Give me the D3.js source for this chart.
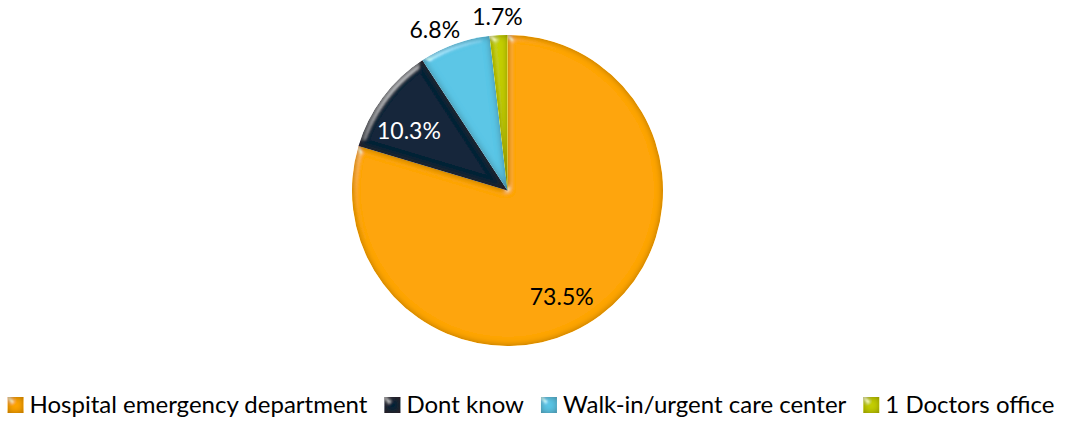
<!DOCTYPE html>
<html>
<head>
<meta charset="utf-8">
<script src="https://cdn.jsdelivr.net/npm/d3@7"></script>
<style>
  body { margin: 0; background: #fff; }
  text { font-family: Lato, "Open Sans", sans-serif; }
</style>
</head>
<body>
<svg id="chart" width="1086" height="421"></svg>
<script>
// chart data
const categories = ["Hospital emergency department", "Dont know", "Walk-in/urgent care center", "1 Doctors office"];
const values = [73.5, 10.3, 6.8, 1.7];
const labels = ["73.5%", "10.3%", "6.8%", "1.7%"];
const colors = ["#fea502", "#0f2538", "#5ac6e6", "#c4cf00"];

let svg = d3.select("#chart");

let cx = 507.5, cy = 190.5, r = 155.5;

// bevel look: soft dark rim + light highlight along the edges
let defs = svg.append("defs");
let f = defs.append("filter").attr("id", "bevel")
  .attr("x", "-10%").attr("y", "-10%").attr("width", "120%").attr("height", "120%");
f.append("feGaussianBlur").attr("in", "SourceAlpha").attr("stdDeviation", 3.5).attr("result", "blur");
// dark rim
f.append("feComposite").attr("in", "SourceAlpha").attr("in2", "blur").attr("operator", "arithmetic")
  .attr("k2", 1).attr("k3", -1).attr("result", "rim");
f.append("feFlood").attr("flood-color", "#3a1d00").attr("flood-opacity", 0.7);
f.append("feComposite").attr("in2", "rim").attr("operator", "in").attr("result", "shade");
// highlight only on edges facing the light
let spec = f.append("feSpecularLighting").attr("in", "blur").attr("surfaceScale", 4)
  .attr("specularConstant", 1).attr("specularExponent", 35)
  .attr("lighting-color", "#ffffff").attr("result", "spec");
spec.append("feDistantLight").attr("azimuth", 225).attr("elevation", 25);
f.append("feComposite").attr("in", "spec").attr("in2", "SourceAlpha").attr("operator", "in").attr("result", "specIn");
f.append("feComposite").attr("in", "SourceGraphic").attr("in2", "specIn").attr("operator", "arithmetic")
  .attr("k2", 1).attr("k3", 0.45).attr("result", "lit");
let m = f.append("feMerge");
m.append("feMergeNode").attr("in", "lit");
m.append("feMergeNode").attr("in", "shade");

let pie = d3.pie().sort(null).value(d => d);
let arcs = pie(values);
let arc = d3.arc().innerRadius(0).outerRadius(r);

let g = svg.append("g").attr("transform", `translate(${cx},${cy})`);

g.selectAll("path.slice")
  .data(arcs)
  .enter()
  .append("path")
  .attr("class", "slice")
  .attr("fill", (d, i) => colors[i])
  .attr("filter", "url(#bevel)")
  .attr("d", arc);

// data labels: radius factor and angle nudge per slice
let labelRadius = [0.77, 0.74, 1.136, 1.118];
let labelNudge = [0.17, -0.1, -0.077, 0];
let labelColors = ["#000", "#fff", "#000", "#000"];

g.selectAll("text.lbl")
  .data(arcs)
  .enter()
  .append("text")
  .attr("class", "lbl")
  .attr("transform", (d, i) => {
    let a = (d.startAngle + d.endAngle) / 2 + labelNudge[i];
    let rr = r * labelRadius[i];
    return `translate(${rr * Math.sin(a)},${-rr * Math.cos(a)})`;
  })
  .attr("text-anchor", "middle")
  .attr("dy", "0.35em")
  .attr("fill", (d, i) => labelColors[i])
  .attr("font-size", 23)
  .text((d, i) => labels[i]);

// legend
let legend = svg.append("g").attr("class", "legend");
let items = legend.selectAll("g")
  .data(categories)
  .enter()
  .append("g");

items.append("rect")
  .attr("width", 16).attr("height", 16)
  .attr("y", -8)
  .attr("fill", (d, i) => colors[i])
  .attr("filter", "url(#bevel)");

items.append("text")
  .attr("x", 22)
  .attr("dy", "0.35em")
  .attr("font-size", 24)
  .attr("fill", "#000")
  .text(d => d);

let x = 0;
let positions = [];
items.each(function(d, i) {
  let w = 22 + d3.select(this).select("text").node().getComputedTextLength();
  positions.push(x);
  x += w + 17;
});
let total = x - 17;
let x0 = 531 - total / 2;
items.attr("transform", (d, i) => `translate(${x0 + positions[i]},405)`);
</script>
</body>
</html>
